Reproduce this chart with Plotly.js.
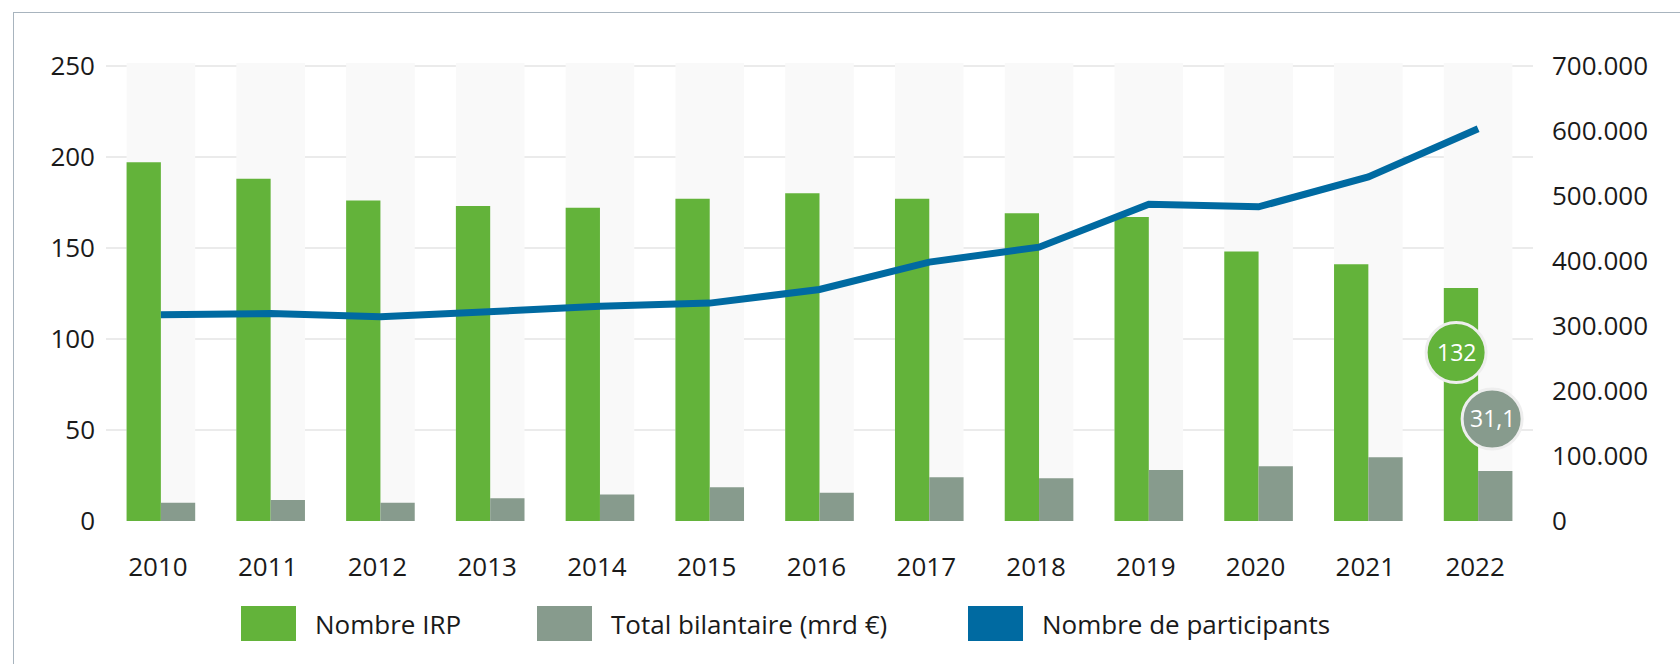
<!DOCTYPE html>
<html>
<head>
<meta charset="utf-8">
<script src="https://cdn.plot.ly/plotly-3.0.1.min.js"></script>
<style>
html,body{margin:0;padding:0;background:#ffffff;overflow:hidden;}
#chart{position:absolute;left:0;top:0;width:1680px;height:664px;}
#frame{position:absolute;left:13px;top:12px;width:1720px;height:720px;border-top:1.5px solid #a8b4be;border-left:1.5px solid #a8b4be;pointer-events:none;}
</style>
</head>
<body>
<div id="chart"></div>
<div id="frame"></div>
<script>
// ---- data ----
const years = ['2010','2011','2012','2013','2014','2015','2016','2017','2018','2019','2020','2021','2022'];
const nombreIRP = [197, 188, 176, 173, 172, 177, 180, 177, 169, 167, 148, 141, 128];
const totalBilantaire = [10, 11.5, 10, 12.5, 14.5, 18.5, 15.5, 24, 23.5, 28, 30, 35, 27.5];
const participants = [317000, 319000, 314000, 323000, 330000, 335000, 356000, 398000, 421000, 487000, 483000, 529000, 603000];
const seriesNames = ['Nombre IRP', 'Total bilantaire (mrd €)', 'Nombre de participants'];
const badgeTexts = ['132', '31,1'];

// ---- styling ----
const colors = ['#63b33a', '#879b8d', '#006aa1'];
const FONT = '"Open Sans", "Noto Sans", sans-serif';
const TXT = '#1a1a1a';
const W = 1680, H = 664;
const M = {l: 106, r: 147, t: 63, b: 143};
const PW = W - M.l - M.r, PH = H - M.t - M.b;
const yMax = 251.5;
const y2Max = 700000 * yMax / 250;
const bargap = 0.375;

const px2x = px => (px - M.l) / PW;
const px2y = py => (H - M.b - py) / PH;

const traces = [
  {type: 'bar', name: seriesNames[0], x: years, y: nombreIRP, marker: {color: colors[0]}, yaxis: 'y', hoverinfo: 'skip'},
  {type: 'bar', name: seriesNames[1], x: years, y: totalBilantaire, marker: {color: colors[1]}, yaxis: 'y', hoverinfo: 'skip'},
  {type: 'scatter', mode: 'lines', name: seriesNames[2], x: years, y: participants, yaxis: 'y2',
   line: {color: colors[2], width: 7}, hoverinfo: 'skip'}
];

const shapes = [];
const annotations = [];
// background column bands behind each bar group
years.forEach((yr, i) => {
  shapes.push({type: 'rect', layer: 'between', xref: 'x', yref: 'y',
    x0: i - (1 - bargap) / 2, x1: i + (1 - bargap) / 2, y0: 0, y1: yMax,
    fillcolor: '#f9f9f9', line: {width: 0}});
});

// value badges for the last year
const last = years.length - 1;
const badgeDefs = [
  {color: colors[0], xshift: -22, y: 92.5},
  {color: colors[1], xshift: 14, y: 56}
];
badgeDefs.forEach((b, k) => {
  shapes.push({type: 'circle', layer: 'above', xref: 'x', yref: 'y',
    xsizemode: 'pixel', ysizemode: 'pixel', xanchor: last, yanchor: b.y,
    x0: b.xshift - 30, x1: b.xshift + 30, y0: -30, y1: 30,
    fillcolor: b.color, line: {color: '#eeeeee', width: 3}});
  annotations.push({xref: 'x', yref: 'y', x: last, y: b.y, xshift: b.xshift, yshift: 1,
    text: badgeTexts[k], showarrow: false, xanchor: 'center', yanchor: 'middle',
    font: {family: FONT, size: 23, color: '#ffffff'}});
});

// custom legend with large swatches
const legendStarts = [241, 537, 968];
seriesNames.forEach((nm, k) => {
  const sx = legendStarts[k];
  shapes.push({type: 'rect', xref: 'paper', yref: 'paper',
    x0: px2x(sx), x1: px2x(sx + 55), y0: px2y(641), y1: px2y(606),
    fillcolor: colors[k], line: {width: 0}});
  annotations.push({xref: 'paper', yref: 'paper', x: px2x(sx + 72), y: px2y(623.5),
    xanchor: 'left', yanchor: 'middle', showarrow: false, text: nm,
    font: {family: FONT, size: 26, color: TXT}});
});

const layout = {
  width: W, height: H,
  margin: M,
  paper_bgcolor: 'rgba(0,0,0,0)', plot_bgcolor: '#ffffff',
  separators: ',.',
  font: {family: FONT, size: 26, color: TXT},
  showlegend: false,
  barmode: 'group', bargap: bargap, bargroupgap: 0,
  xaxis: {type: 'category', range: [-0.5, years.length - 0.5], showgrid: false, zeroline: false,
    showline: false, ticks: '', ticklabelstandoff: 28, ticklabelshift: -3,
    tickfont: {family: FONT, size: 26, color: TXT}},
  yaxis: {range: [0, yMax], tickvals: [0, 50, 100, 150, 200, 250], showgrid: true, gridcolor: '#ebebeb', gridwidth: 2,
    zeroline: false, showline: false, ticks: '', ticklabelstandoff: 10,
    tickfont: {family: FONT, size: 26, color: TXT}},
  yaxis2: {range: [0, y2Max], overlaying: 'y', side: 'right', tickvals: [0, 100000, 200000, 300000, 400000, 500000, 600000, 700000],
    tickformat: ',d', showgrid: false, zeroline: false, showline: false, ticks: '', ticklabelstandoff: 18,
    tickfont: {family: FONT, size: 26, color: TXT}},
  shapes: shapes,
  annotations: annotations
};

Plotly.newPlot('chart', traces, layout, {staticPlot: true, displayModeBar: false});
</script>
</body>
</html>
